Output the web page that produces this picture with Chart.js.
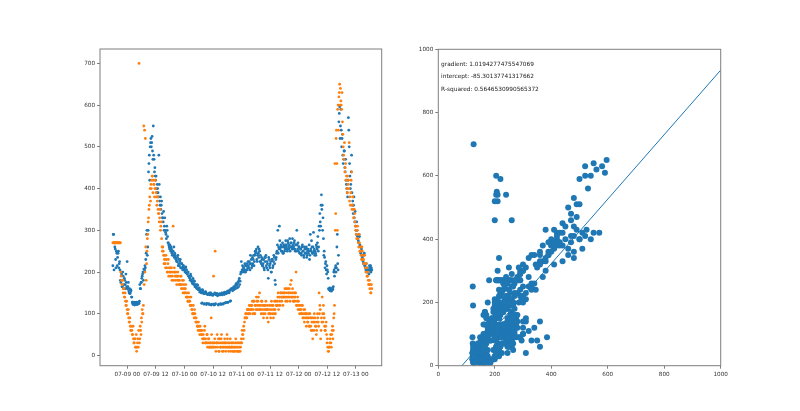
<!DOCTYPE html>
<html>
<head>
<meta charset="utf-8">
<script src="https://cdn.jsdelivr.net/npm/chart.js@4.4.1/dist/chart.umd.min.js"></script>
<style>
  html, body { margin: 0; padding: 0; background: #fff; }
  #wrap { position: relative; width: 800px; height: 411px; }
  canvas { position: absolute; top: 0; }
  #left { left: 0; }
  #right { left: 400px; }
</style>
</head>
<body>
<div id="wrap">
  <canvas id="left" width="400" height="411"></canvas>
  <canvas id="right" width="400" height="411"></canvas>
</div>
<script>
// sample times: hours after 07-09 00, one sample every 20 minutes,
// a second set of samples sits 10 minutes after each of these
const startHour = -6.1;
const stepHours = 1 / 3;

// sensor A (blue)
const blueValues = [
  215,290,270, 255,210,245, 235,250,220, 205,175,195,
  165,190,170, 180,160,175, 225,165,155, 160,150,155,
  140,125,128, 124,127,122, 126,123,128, 125,170,160,
  175,190,200, 207,205,210, 245,300,260, 440,480,500,
  520,510,490, 550,470,450, 420,400,410, 390,480,370,
  380,360,340, 330,345,310, 300,290,310, 285,270,260,
  265,250,255, 240,250,260, 245,235,230, 225,240,220,
  215,230,210, 220,205,215, 210,200,212, 205,195,200,
  190,185,195, 180,175,185, 170,178,165, 165,160,168,
  158,162,155, 152,125,158, 150,123,148, 153,122,147,
  146,124,150, 148,121,145, 144,123,147, 122,146,149,
  143,121,145, 147,124,148, 145,123,150, 152,126,148,
  150,127,155, 153,130,158, 160,155,162, 158,165,170,
  168,162,175, 180,170,195, 225,205,200, 210,200,215,
  205,220,210, 215,225,205, 220,210,235, 230,215,240,
  245,255,225, 260,235,250, 240,220,230, 215,230,205,
  225,240,210, 220,185,230, 210,225,200, 230,215,240,
  220,170,235, 250,300,260, 310,255,265, 250,270,245,
  260,255,275, 265,250,270, 255,280,260, 270,255,265,
  260,275,250, 265,300,255, 250,260,245, 255,240,265,
  250,235,255, 245,260,240, 255,250,230, 290,250,260,
  245,295,255, 250,240,260, 270,250,310, 340,310,385,
  360,330,240, 235,220,205, 215,200,160, 158,155,160,
  157,162,165, 205,200,215, 210,290,205, 560,596,550,
  540,520,480, 470,490,440, 420,400,380, 570,500,430,
  410,480,360, 340,380,320, 310,290,300, 280,270,285,
  260,250,240, 230,220,245, 215,205,200, 210,200,195,
  205,215,210
];
const blueValuesMid = [
  290,205,260, 230,250,215, 245,210,225, 180,200,165,
  200,160,185, 170,195,165, 160,175,150, 148,158,140,
  128,122,126, 121,125,128, 122,127,124, 130,160,175,
  185,195,180, 200,215,230, 290,240,300, 460,420,510,
  500,525,470, 480,440,430, 430,390,400, 380,410,360,
  350,370,330, 320,300,330, 295,280,300, 270,265,255,
  255,260,245, 250,240,235, 240,230,225, 235,215,230,
  225,210,220, 210,215,205, 205,210,198, 195,200,190,
  188,180,190, 178,172,180, 172,165,170, 162,170,158,
  160,152,157, 150,126,155, 148,124,152, 150,125,146,
  148,122,145, 150,123,147, 146,121,150, 124,145,147,
  146,123,148, 145,122,150, 148,125,146, 150,127,152,
  154,128,150, 157,131,160, 158,160,165, 163,160,172,
  170,175,165, 185,178,200, 200,215,210, 205,220,200,
  215,205,225, 210,220,240, 230,215,220, 240,225,250,
  250,230,240, 245,255,225, 225,235,215, 220,210,235,
  235,215,225, 205,235,215, 220,200,230, 210,225,235,
  180,230,245, 265,245,255, 275,260,250, 260,245,265,
  250,265,260, 255,275,260, 265,250,270, 260,280,255,
  270,255,265, 250,265,270, 260,245,255, 245,260,250,
  240,260,245, 255,235,250, 245,265,240, 255,275,245,
  260,250,240, 245,265,255, 285,260,300, 320,360,350,
  300,280,250, 210,225,195, 205,185,158, 162,156,154,
  160,158,200, 190,210,200, 260,220,240, 580,520,590,
  500,530,460, 490,450,470, 410,390,420, 540,460,400,
  440,390,370, 360,330,345, 300,320,285, 275,290,265,
  245,255,235, 225,240,215, 210,220,205, 200,205,215,
  210,200,205
];

// sensor B (orange), same timestamps
const orangeValues = [
  270,270,270, 270,270,270, 270,270,270, 270,200,180,
  170,150,160, 140,130,120, 110,100,90, 80,70,60,
  60,50,40, 30,40,20, 10,30,20, 700,40,60,
  90,110,100, 550,540,520, 180,250,290, 330,360,400,
  410,420,430, 420,410,400, 400,380,370, 350,340,330,
  300,320,260, 260,240,230, 220,240,210, 200,230,210,
  200,190,210, 190,310,200, 200,180,190, 190,200,180,
  180,170,190, 170,160,180, 160,150,170, 150,140,130,
  140,130,120, 120,110,100, 100,110,90, 90,80,70,
  80,60,70, 60,50,40, 50,40,70, 40,30,50,
  30,40,20, 30,90,20, 20,190,30, 250,10,30,
  20,40,10, 30,20,50, 10,30,20, 40,20,30,
  50,20,10, 30,40,20, 20,10,30, 10,20,40,
  20,10,30, 10,30,20, 40,60,50, 70,80,90,
  100,90,110, 110,120,100, 120,110,130, 110,130,100,
  120,140,110, 130,110,150, 120,100,130, 110,90,120,
  100,130,110, 120,80,100, 110,90,130, 100,120,110,
  130,100,120, 120,140,110, 140,120,150, 130,150,140,
  140,160,130, 150,130,140, 150,140,170, 180,140,150,
  130,150,140, 200,120,140, 130,110,120, 110,100,120,
  100,90,110, 100,70,90, 80,100,70, 90,60,80,
  40,80,100, 90,70,60, 100,80,150, 120,40,90,
  140,80,100, 70,60,80, 30,20,10, 20,40,30,
  50,70,60, 100,460,340, 540,300,600, 620,650,640,
  600,630,530, 480,510,450, 420,400,430, 420,510,380,
  390,440,360, 350,330,340, 310,290,300, 280,260,270,
  250,240,260, 240,230,220, 220,200,210, 190,180,170,
  160,150,170
];
const orangeValuesMid = [
  270,270,270, 270,270,270, 270,270,270, 270,190,170,
  180,160,140, 150,120,130, 100,110,80, 90,60,70,
  50,70,30, 40,20,50, 20,40,60, 30,70,50,
  80,100,120, 170,200,260, 220,280,320, 350,380,370,
  400,430,390, 410,380,420, 390,360,380, 340,320,350,
  310,280,250, 250,220,240, 210,230,200, 220,190,200,
  210,200,180, 200,180,210, 190,200,170, 180,190,170,
  170,190,160, 180,150,170, 150,160,140, 140,130,150,
  130,120,140, 110,100,120, 90,100,80, 80,70,60,
  70,50,60, 50,60,30, 40,60,30, 30,50,20,
  40,20,30, 20,50,30, 30,20,40, 20,30,50,
  30,10,40, 20,40,30, 20,10,30, 30,10,20,
  40,30,20, 20,10,30, 30,20,10, 20,30,10,
  30,20,10, 20,10,30, 30,50,40, 60,90,100,
  90,110,100, 100,110,120, 110,120,100, 130,100,120,
  110,130,120, 140,120,110, 110,130,120, 100,120,110,
  120,110,90, 110,100,120, 100,120,110, 120,90,100,
  110,130,120, 130,150,120, 130,150,140, 140,120,150,
  150,140,160, 140,160,150, 160,130,150, 140,160,130,
  140,130,150, 120,130,110, 120,100,110, 100,120,90,
  110,80,100, 90,100,80, 90,70,100, 70,90,60,
  90,60,80, 70,50,80, 90,70,100, 110,60,80,
  100,120,90, 60,70,50, 40,10,20, 30,50,20,
  60,40,90, 120,300,520, 460,590,540, 630,600,610,
  590,560,500, 470,440,460, 430,390,410, 400,370,360,
  420,350,380, 330,350,320, 300,280,310, 270,290,250,
  260,230,250, 230,220,240, 210,220,190, 200,170,180,
  170,150,160
];

const timeTicks = [0, 12, 24, 36, 48, 60, 72, 84, 96];
const leftYTicks = [0, 100, 200, 300, 400, 500, 600, 700];
const rightTicks = [0, 200, 400, 600, 800, 1000];

// linear fit of B against A
const gradient = 1.0194277475547069;
const intercept = -85.30137741317662;
const rSquared = 0.5646530990565372;
const fitX = [0, 1000];

const BLUE = '#1f77b4';
const ORANGE = '#ff7f0e';
const tickFont = { family: 'DejaVu Sans', size: 5.7 };
const tickColor = '#333';
const spineColor = '#7f7f7f';

function timeLabel(h) {
  const day = 9 + Math.floor(h / 24);
  const hr = ((h % 24) + 24) % 24;
  return '07-' + String(day).padStart(2, '0') + ' ' + String(hr).padStart(2, '0');
}

function fixedTicks(list) {
  return function (scale) {
    scale.ticks = list.map(v => ({ value: v }));
  };
}

function axis(min, max, list, label, opts) {
  return Object.assign({
    type: 'linear',
    min: min,
    max: max,
    afterBuildTicks: fixedTicks(list),
    ticks: { font: tickFont, color: tickColor, padding: 2, maxRotation: 0, autoSkip: false,
             callback: label },
    grid: { drawOnChartArea: false, tickLength: 3, color: spineColor },
    border: { display: false }
  }, opts);
}

// box around the axes, like matplotlib spines
const framePlugin = {
  id: 'frame',
  afterDraw(chart) {
    const a = chart.chartArea;
    const ctx = chart.ctx;
    ctx.save();
    ctx.strokeStyle = spineColor;
    ctx.lineWidth = 1;
    ctx.strokeRect(a.left, a.top, a.right - a.left, a.bottom - a.top);
    ctx.restore();
  }
};

const fitText = [
  'gradient: ' + gradient,
  'intercept: ' + intercept,
  'R-squared: ' + rSquared
];
const fitTextY = [948, 908, 868];

const textPlugin = {
  id: 'fitText',
  afterDraw(chart) {
    const ctx = chart.ctx;
    const xs = chart.scales.x, ys = chart.scales.y;
    ctx.save();
    ctx.font = '5.8px "DejaVu Sans"';
    ctx.fillStyle = '#222';
    ctx.textBaseline = 'alphabetic';
    fitText.forEach((t, i) => {
      ctx.fillText(t, xs.getPixelForValue(10), ys.getPixelForValue(fitTextY[i]));
    });
    ctx.restore();
  }
};

const bluePts = [], orangePts = [], pairPts = [];
function addSeries(blue, orange, offset) {
  const n = Math.min(blue.length, orange.length);
  for (let i = 0; i < n; i++) {
    const t = startHour + offset + i * stepHours;
    bluePts.push({ x: t, y: blue[i] });
    orangePts.push({ x: t, y: orange[i] });
    pairPts.push({ x: blue[i], y: orange[i] });
  }
}
addSeries(blueValues, orangeValues, 0);
addSeries(blueValuesMid, orangeValuesMid, stepHours / 2);
const fitPts = fitX.map(x => ({ x: x, y: gradient * x + intercept }));

new Chart(document.getElementById('left'), {
  type: 'scatter',
  data: {
    datasets: [
      { data: orangePts, backgroundColor: ORANGE, borderWidth: 0, pointRadius: 1.4, order: 0 },
      { data: bluePts, backgroundColor: BLUE, borderWidth: 0, pointRadius: 1.4, order: 1 }
    ]
  },
  options: {
    responsive: false,
    animation: false,
    layout: { padding: { left: 0, top: 49, right: 18.3, bottom: 15.3 } },
    plugins: { legend: { display: false }, tooltip: { enabled: false } },
    scales: {
      x: axis(-11.5, 106.9, timeTicks, v => timeLabel(v), {
        afterFit: s => { s.height = 30; }
      }),
      y: axis(-24.5, 734.5, leftYTicks, v => String(v), {
        afterFit: s => { s.width = 100; }
      })
    }
  },
  plugins: [framePlugin]
});

new Chart(document.getElementById('right'), {
  type: 'scatter',
  data: {
    datasets: [
      { data: pairPts, backgroundColor: BLUE, borderWidth: 0, pointRadius: 3 },
      { type: 'line', data: fitPts, borderColor: BLUE, borderWidth: 1, pointRadius: 0, fill: false }
    ]
  },
  options: {
    responsive: false,
    animation: false,
    layout: { padding: { left: 0, top: 49.3, right: 79.3, bottom: 15.3 } },
    plugins: { legend: { display: false }, tooltip: { enabled: false } },
    scales: {
      x: axis(0, 1000, rightTicks, v => String(v), { afterFit: s => { s.height = 30; } }),
      y: axis(0, 1000, rightTicks, v => String(v), { afterFit: s => { s.width = 38.3; } })
    }
  },
  plugins: [framePlugin, textPlugin]
});
</script>
</body>
</html>
